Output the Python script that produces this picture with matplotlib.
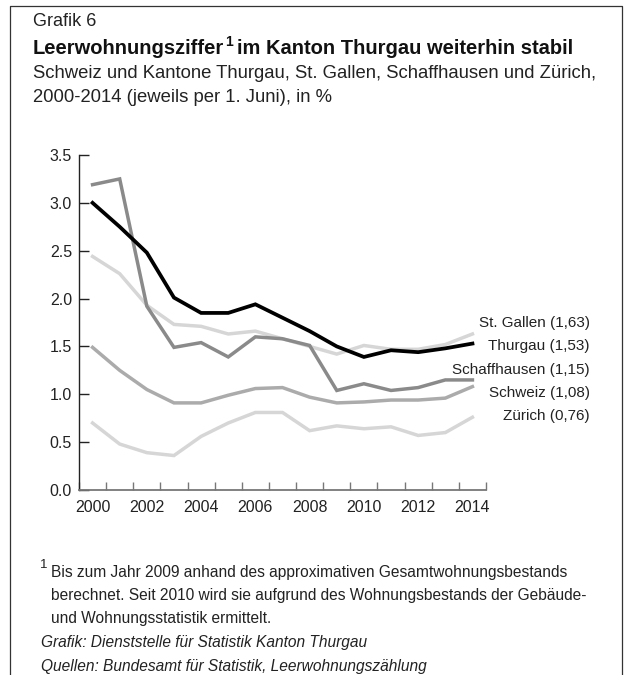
#!/usr/bin/env python3
"""Leerwohnungsziffer Thurgau vs. other cantons, 2000-2014."""

import matplotlib

matplotlib.use("Agg")

import matplotlib.pyplot as plt

plt.rcParams["font.family"] = ["Liberation Sans", "DejaVu Sans"]

YEARS = list(range(2000, 2015))

# values, in %
THURGAU = [3.00, 2.75, 2.48, 2.01, 1.85, 1.85, 1.94, 1.80, 1.66, 1.50, 1.39, 1.46, 1.44, 1.48, 1.53]
ST_GALLEN = [2.44, 2.26, 1.93, 1.73, 1.71, 1.63, 1.66, 1.58, 1.50, 1.42, 1.51, 1.47, 1.47, 1.52, 1.63]
SCHAFFHAUSEN = [3.19, 3.25, 1.92, 1.49, 1.54, 1.39, 1.60, 1.58, 1.51, 1.04, 1.11, 1.04, 1.07, 1.15, 1.15]
SCHWEIZ = [1.49, 1.25, 1.05, 0.91, 0.91, 0.99, 1.06, 1.07, 0.97, 0.91, 0.92, 0.94, 0.94, 0.96, 1.08]
ZUERICH = [0.70, 0.48, 0.39, 0.36, 0.56, 0.70, 0.81, 0.81, 0.62, 0.67, 0.64, 0.66, 0.57, 0.60, 0.76]

SERIES = [
    ("Zürich", ZUERICH, "#d6d6d6", 2.5),
    ("Schweiz", SCHWEIZ, "#ababab", 2.5),
    ("St. Gallen", ST_GALLEN, "#d6d6d6", 2.5),
    ("Schaffhausen", SCHAFFHAUSEN, "#8a8a8a", 2.5),
    ("Thurgau", THURGAU, "#000000", 2.7),
]

LABELS = ["St. Gallen (1,63)", "Thurgau (1,53)", "Schaffhausen (1,15)", "Schweiz (1,08)", "Zürich (0,76)"]
Y_TICKS = [0.0, 0.5, 1.0, 1.5, 2.0, 2.5, 3.0, 3.5]
X_LABEL_YEARS = list(range(2000, 2015, 2))

W, H = 632, 675
TXT = "#222222"


def px(x, y):
    """pixel coords (top-left origin) -> figure fraction"""
    return x / W, 1 - y / H


fig = plt.figure(figsize=(W / 100, H / 100), dpi=100)

# frame around the graphic (open at the bottom)
fig.add_artist(plt.Line2D([10 / W, 10 / W, 622 / W, 622 / W], [0, 1 - 6 / H, 1 - 6 / H, 0],
                          transform=fig.transFigure, color="#333333", linewidth=0.9))

ax = fig.add_axes([79 / W, 1 - 490 / H, (486 - 79) / W, (490 - 155) / H])
for name, values, color, lw in SERIES:
    ax.plot(YEARS, values, color=color, linewidth=lw, solid_joinstyle="miter")

ax.set_xlim(1999.5, 2014.5)
ax.set_ylim(0, 3.5)
ax.set_yticks(Y_TICKS)
ax.set_yticklabels([f"{v:.1f}" for v in Y_TICKS])
ax.set_xticks(X_LABEL_YEARS)
ax.set_xticklabels([str(y) for y in X_LABEL_YEARS])
ax.set_xticks([y + 0.5 for y in range(1999, 2015)], minor=True)
ax.tick_params(axis="x", which="major", length=0, pad=7, labelsize=11.5, labelcolor=TXT)
ax.tick_params(axis="x", which="minor", direction="in", length=6, color="#777777", width=1.0)
ax.tick_params(axis="y", direction="in", length=7, width=1.0, color=TXT, labelsize=11.5,
               labelcolor=TXT, pad=5)
for side in ["top", "right"]:
    ax.spines[side].set_visible(False)
ax.spines["left"].set_color(TXT)
ax.spines["bottom"].set_color("#777777")
ax.spines["left"].set_linewidth(1.0)
ax.spines["bottom"].set_linewidth(1.3)
ax.grid(False)

# series labels at the right edge
label_y = [323, 346, 370, 393, 416]
for text, y in zip(LABELS, label_y):
    fig.text(*px(590, y), text, ha="right", va="center", fontsize=11, color=TXT)

# header
fig.text(*px(33, 22), "Grafik 6", ha="left", va="center", fontsize=13, color=TXT)
title = fig.text(*px(33, 48), "Leerwohnungsziffer", ha="left", va="center",
                 fontsize=14.5, fontweight="bold", color="#111111")
fig.canvas.draw()
renderer = fig.canvas.get_renderer()
bb = title.get_window_extent(renderer)
sup = fig.text((bb.x1 + 1) / W, px(0, 42)[1], "1", ha="left", va="center",
               fontsize=10, fontweight="bold", color="#111111")
bb2 = sup.get_window_extent(renderer)
fig.text((bb2.x1 + 4) / W, px(0, 48)[1], "im Kanton Thurgau weiterhin stabil", ha="left",
         va="center", fontsize=14.5, fontweight="bold", color="#111111")
fig.text(*px(33, 73), "Schweiz und Kantone Thurgau, St. Gallen, Schaffhausen und Zürich,",
         ha="left", va="center", fontsize=13.3, color=TXT)
fig.text(*px(33, 98), "2000-2014 (jeweils per 1. Juni), in %",
         ha="left", va="center", fontsize=13.3, color=TXT)

# footnote and sources
fig.text(*px(40, 565), "1", ha="left", va="center", fontsize=9.5, color=TXT)
foot = [
    "Bis zum Jahr 2009 anhand des approximativen Gesamtwohnungsbestands",
    "berechnet. Seit 2010 wird sie aufgrund des Wohnungsbestands der Gebäude-",
    "und Wohnungsstatistik ermittelt.",
]
for i, line in enumerate(foot):
    fig.text(*px(51, 572 + 23.5 * i), line, ha="left", va="center", fontsize=11.2, color=TXT)
fig.text(*px(41, 643), "Grafik: Dienststelle für Statistik Kanton Thurgau",
         ha="left", va="center", fontsize=11.2, style="italic", color=TXT)
fig.text(*px(41, 666), "Quellen: Bundesamt für Statistik, Leerwohnungszählung",
         ha="left", va="center", fontsize=11.2, style="italic", color=TXT)

fig.savefig("out.png", dpi=100)
